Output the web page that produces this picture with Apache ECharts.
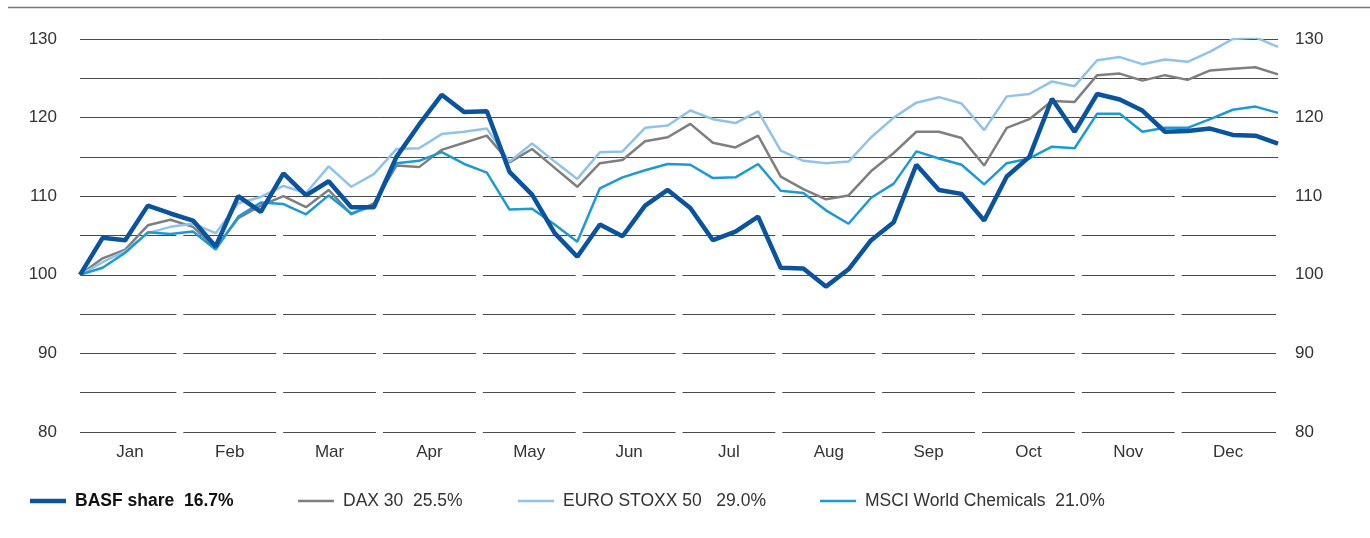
<!DOCTYPE html>
<html>
<head>
<meta charset="utf-8">
<script src="https://cdn.jsdelivr.net/npm/echarts@6.0.0/dist/echarts.min.js"></script>
<style>
  html, body { margin: 0; padding: 0; background: #fff; }
  #chart { width: 1370px; height: 538px; }
</style>
</head>
<body>
<div id="chart"></div>
<script>
// Weekly index values (start = 100), 54 points over the year
const months = ['Jan', 'Feb', 'Mar', 'Apr', 'May', 'Jun', 'Jul', 'Aug', 'Sep', 'Oct', 'Nov', 'Dec'];

const basf = [100, 104.7, 104.4, 108.8, 107.8, 106.9, 103.6, 110.0, 108.0, 112.9,
  110.1, 111.9, 108.6, 108.6, 115.0, 119.1, 122.9, 120.7, 120.8, 113.1,
  110.2, 105.3, 102.3, 106.4, 104.9, 108.8, 110.8, 108.5, 104.4, 105.5,
  107.4, 100.9, 100.8, 98.5, 100.7, 104.4, 106.7, 114.0, 110.8, 110.3,
  106.9, 112.5, 115.0, 122.4, 118.2, 123.0, 122.3, 120.9, 118.2, 118.3,
  118.6, 117.8, 117.7, 116.7];

const dax = [100, 102.1, 103.2, 106.3, 107.0, 106.1, 103.4, 107.2, 108.8, 110.0,
  108.6, 110.8, 107.7, 109.1, 113.9, 113.7, 115.9, 116.8, 117.7, 114.3,
  116.0, 113.6, 111.2, 114.2, 114.6, 117.0, 117.5, 119.2, 116.8, 116.2,
  117.7, 112.5, 110.9, 109.6, 110.1, 113.2, 115.5, 118.2, 118.2, 117.4,
  113.9, 118.7, 119.8, 122.1, 122.0, 125.4, 125.6, 124.7, 125.4, 124.8,
  126.0, 126.2, 126.4, 125.5];

const euroStoxx = [100, 101.6, 103.0, 105.3, 106.1, 106.5, 105.3, 109.1, 109.9, 111.3,
  110.4, 113.8, 111.2, 112.8, 116.0, 116.1, 117.9, 118.2, 118.6, 114.4,
  116.7, 114.4, 112.2, 115.6, 115.7, 118.7, 119.0, 120.9, 119.8, 119.3,
  120.8, 115.8, 114.5, 114.2, 114.4, 117.5, 120.0, 121.9, 122.6, 121.8,
  118.4, 122.7, 123.0, 124.6, 124.0, 127.3, 127.7, 126.8, 127.4, 127.1,
  128.4, 130.0, 130.2, 129.0];

const msci = [100, 100.9, 102.8, 105.4, 105.2, 105.5, 103.2, 107.4, 109.2, 109.0,
  107.7, 110.1, 107.8, 108.8, 114.2, 114.5, 115.6, 114.1, 113.0, 108.3,
  108.4, 106.4, 104.2, 111.0, 112.4, 113.3, 114.1, 114.0, 112.3, 112.4,
  114.1, 110.7, 110.4, 108.2, 106.5, 109.8, 111.6, 115.7, 114.8, 114.0,
  111.5, 114.2, 114.8, 116.3, 116.1, 120.5, 120.5, 118.2, 118.7, 118.7,
  119.8, 121.0, 121.4, 120.6];

const seriesNames = ['BASF share', 'DAX 30', 'EURO STOXX 50', 'MSCI World Chemicals'];
const changes = ['  16.7%', '  25.5%', '   29.0%', '  21.0%'];
const gridValues = [80, 85, 90, 95, 100, 105, 110, 115, 120, 125, 130];

const font = "'Liberation Sans', Arial, Helvetica, sans-serif";
const weeks = basf.map((_, i) => i);

// horizontal gridlines, broken at the month boundaries below 115
const gridLines = [];
gridValues.forEach(v => {
    if (v >= 115) {
        gridLines.push({ coords: [[0, v], [12, v]] });
    } else {
        for (let m = 0; m < 12; m++) {
            const x1 = m === 0 ? 0 : m + 0.035;
            const x2 = m === 11 ? 11.98 : m + 1 - 0.035;
            gridLines.push({ coords: [[x1, v], [x2, v]] });
        }
    }
});

function makeLegend(idx, left, lineWidth, bold) {
    return {
        data: [seriesNames[idx]],
        left: left,
        top: 492,
        padding: 0,
        icon: 'rect',
        itemWidth: 36,
        itemHeight: lineWidth,
        selectedMode: false,
        formatter: name => name + changes[idx],
        textStyle: {
            fontFamily: font,
            fontSize: 17.5,
            fontWeight: bold ? 'bold' : 'normal',
            color: bold ? '#111' : '#333',
            padding: [0, 0, 0, 4]
        }
    };
}

const chart = echarts.init(document.getElementById('chart'));

const option = {
    animation: false,
    backgroundColor: '#fff',
    grid: { left: 80, right: 92, top: 39, bottom: 106 },
    graphic: [{
        type: 'line',
        shape: { x1: 8, y1: 7.5, x2: 1370, y2: 7.5 },
        style: { stroke: '#777', lineWidth: 1.5 }
    }],
    legend: [
        makeLegend(0, 30, 4.5, true),
        makeLegend(1, 298, 2.5, false),
        makeLegend(2, 518, 2.5, false),
        makeLegend(3, 820, 2.5, false)
    ],
    xAxis: [
        { type: 'category', data: weeks, boundaryGap: false, show: false },
        {
            type: 'category',
            data: months,
            boundaryGap: true,
            position: 'bottom',
            axisLine: { show: false },
            axisTick: { show: false },
            splitLine: { show: false },
            axisLabel: { fontFamily: font, fontSize: 17, color: '#333', margin: 12 }
        },
        { type: 'value', min: 0, max: 12, show: false }
    ],
    yAxis: [
        {
            type: 'value', min: 80, max: 130, interval: 5, position: 'left',
            axisLine: { show: false }, axisTick: { show: false }, splitLine: { show: false },
            axisLabel: {
                fontFamily: font, fontSize: 17, color: '#333', margin: 23,
                formatter: v => (v % 10 === 0 ? String(v) : '')
            }
        },
        {
            type: 'value', min: 80, max: 130, interval: 5, position: 'right',
            axisLine: { show: false }, axisTick: { show: false }, splitLine: { show: false },
            axisLabel: {
                fontFamily: font, fontSize: 17, color: '#333', margin: 17,
                formatter: v => (v % 10 === 0 ? String(v) : '')
            }
        }
    ],
    series: [
        {
            name: 'gridlines',
            type: 'lines',
            coordinateSystem: 'cartesian2d',
            xAxisIndex: 2,
            yAxisIndex: 0,
            silent: true,
            clip: false,
            z: 1,
            lineStyle: { color: '#4a4a4a', width: 1, opacity: 1 },
            data: gridLines
        },
        {
            name: seriesNames[1], type: 'line', data: dax, symbol: 'none', z: 3,
            color: '#7f7f7f', lineStyle: { color: '#7f7f7f', width: 2.5 }
        },
        {
            name: seriesNames[2], type: 'line', data: euroStoxx, symbol: 'none', z: 3,
            color: '#8fc3ea', lineStyle: { color: '#8fc3ea', width: 2.5 }
        },
        {
            name: seriesNames[3], type: 'line', data: msci, symbol: 'none', z: 3,
            color: '#1b9ad6', lineStyle: { color: '#1b9ad6', width: 2.5 }
        },
        {
            name: seriesNames[0], type: 'line', data: basf, symbol: 'none', z: 4,
            color: '#0a539e', lineStyle: { color: '#0a539e', width: 4.5 }
        }
    ]
};

option && chart.setOption(option);
window.addEventListener('resize', chart.resize);
</script>
</body>
</html>
